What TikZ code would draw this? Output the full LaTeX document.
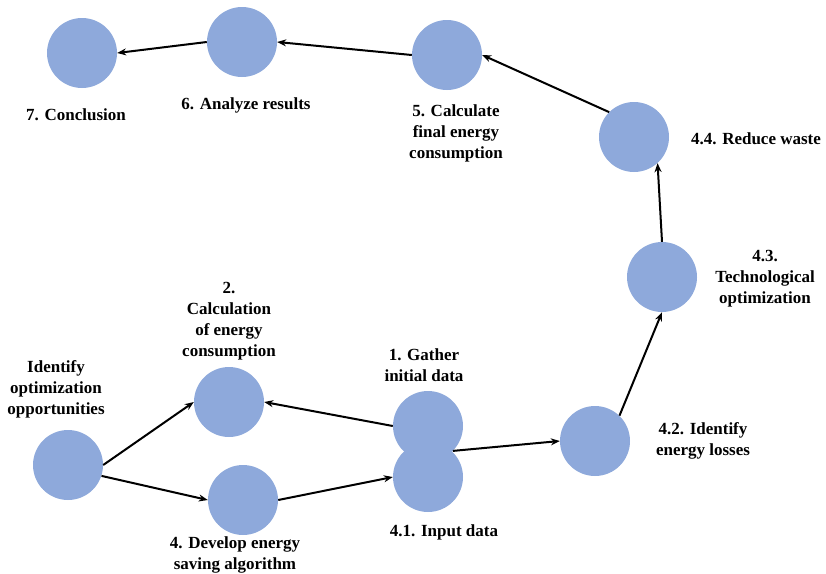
\documentclass[tikz,border=0pt]{standalone}
\usepackage{fontspec}
\setmainfont{Liberation Serif}[BoldFont={Liberation Serif Bold}]
\usetikzlibrary{arrows.meta}
\definecolor{stageblue}{RGB}{142,169,219}
\begin{document}
\begin{tikzpicture}[x=1pt,y=-1pt,
  stage/.style={circle,fill=stageblue,minimum size=70pt,inner sep=0pt},
  caption/.style={align=center,inner sep=0pt,font=\rmfamily\fontsize{17}{21}\selectfont\bfseries},
  flow/.style={-{Stealth[length=9pt,width=7pt]},line width=2pt}]
\useasboundingbox (0,0) rectangle (826,573);

\node[stage] (concl) at (82,53) {};
\node[stage] (analyze) at (242,42) {};
\node[stage] (final) at (447,55) {};
\node[stage] (waste) at (634,137) {};
\node[stage] (techopt) at (662,277) {};
\node[stage] (losses) at (595,441) {};
\node[stage] (gather) at (428,426) {};
\node[stage] (input) at (428,477) {};
\node[stage] (calc) at (229,402) {};
\node[stage] (algo) at (243,500) {};
\node[stage] (opport) at (68,465) {};

\node[caption] (conclL) at (76,115) {7. Conclusion};
\node[caption] (analyzeL) at (246,105) {6. Analyze results};
\node[caption] (finalL) at (456,133) {5. Calculate\\final energy\\consumption};
\node[caption] (wasteL) at (756,139) {4.4. Reduce waste};
\node[caption] (techoptL) at (765,279) {4.3.\\Technological\\optimization};
\node[caption] (lossesL) at (703,441) {4.2. Identify\\energy losses};
\node[caption] (gatherL) at (424,365) {1. Gather\\initial data};
\node[caption] (inputL) at (444,532) {4.1. Input data};
\node[caption] (calcL) at (229,321) {2.\\Calculation\\of energy\\consumption};
\node[caption] (algoL) at (235,555) {4. Develop energy\\saving algorithm};
\node[caption] (opportL) at (56,389) {Identify\\optimization\\opportunities};

\draw[flow] (opport.east) -- (calc.west);
\draw[flow] (opport.-18) -- (algo.west);
\draw[flow] (gather.west) -- (calc.east);
\draw[flow] (algo.east) -- (input.west);
\draw[flow] (gather.south east) -- (losses.west);
\draw[flow] (losses.46) -- (techopt.south);
\draw[flow] (techopt.north) -- (waste.-48);
\draw[flow] (waste.135) -- (final.east);
\draw[flow] (final.west) -- (analyze.east);
\draw[flow] (analyze.west) -- (concl.east);
\end{tikzpicture}
\end{document}
